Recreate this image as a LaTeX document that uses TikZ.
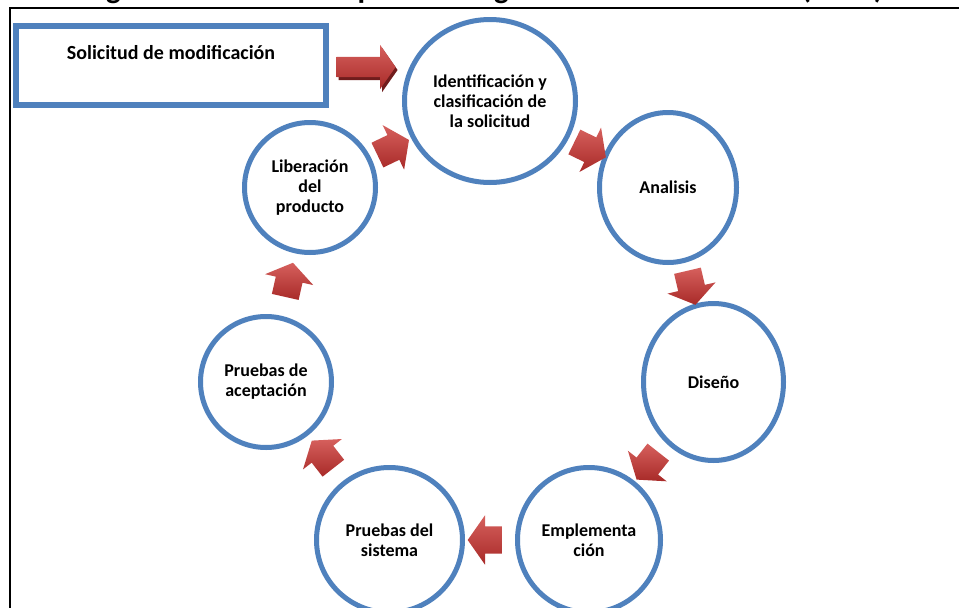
\documentclass[tikz,border=0pt]{standalone}
\usepackage{fontspec}
\setmainfont{Carlito}
\usetikzlibrary{shapes.geometric,shapes.arrows,calc,shadows}
\definecolor{cblue}{RGB}{79,129,189}
\definecolor{alight}{RGB}{214,96,93}
\definecolor{adark}{RGB}{168,42,40}
\definecolor{ashadow}{RGB}{112,28,28}
\begin{document}
\begin{tikzpicture}[x=1pt,y=1pt,
  stage/.style={ellipse, draw=cblue, line width=5pt, fill=white, inner sep=0pt,
    align=center, font=\bfseries\fontsize{18}{20}\selectfont},
  cyc/.style={single arrow, sloped, allow upside down=true, draw=none,
    inner xsep=0pt, inner ysep=13.5pt,
    minimum height=35pt, single arrow head extend=11pt,
    single arrow tip angle=110, top color=alight, bottom color=adark},
  bigarrow/.style={single arrow, draw=none, inner xsep=0pt, inner ysep=10pt,
    minimum height=59pt, single arrow head extend=12pt,
    single arrow tip angle=110, top color=alight, bottom color=adark,
    general shadow={fill=ashadow, shadow xshift=2pt, shadow yshift=-3pt}},
  reqbox/.style={rectangle, draw=cblue, line width=6pt, fill=white, inner sep=0pt,
    minimum width=310pt, minimum height=79pt, text depth=27pt,
    font=\bfseries\fontsize{20}{22}\selectfont}
]
\useasboundingbox (0,0) rectangle (959,-608);
\fill[white] (0,0) rectangle (959,-608);
\begin{scope}
  \clip (0,0) rectangle (959,-608);
  \node[anchor=base west, inner sep=0pt, font=\bfseries\fontsize{31}{34}\selectfont]
    (title) at (84,2) {Figura 1. Modelo del proceso según la norma IEEE 1219 (1998)};
  \draw[line width=2pt] (10,-8) rectangle (990,-650);
\end{scope}

% request box
\node[reqbox] (sol) at (171,-65.5) {Solicitud de modificación};

% stages
\node[stage, minimum width=171pt, minimum height=163pt] (ident) at (490,-101)
  {Identificación y\\clasificación de\\la solicitud};
\node[stage, minimum width=137pt, minimum height=150pt] (anal) at (668,-187.5) {Analisis};
\node[stage, minimum width=140pt, minimum height=157pt] (dis) at (713.5,-382) {Diseño};
\node[stage, minimum width=143pt, minimum height=145pt] (impl) at (589,-540) {Emplementa\\ción};
\node[stage, minimum width=146pt, minimum height=145pt] (sist) at (389.5,-540) {Pruebas del\\sistema};
\node[stage, minimum width=131pt, minimum height=131pt] (acep) at (266,-382) {Pruebas de\\aceptación};
\node[stage, minimum width=131pt, minimum height=130pt] (lib) at (310,-187.5) {Liberación\\del\\producto};

% arrows
\path ($(sol.east)+(0,-1.5)$) -- ($(sol.east -| ident.west)+(-6,-1.5)$) node[midway, bigarrow] (a0) {};
\path (ident) -- node[cyc, pos=0.5] (a1) {} (anal);
\path (anal) -- node[cyc, pos=0.5] (a2) {} (dis);
\path (dis) -- node[cyc, pos=0.5] (a3) {} (impl);
\path (impl) -- node[cyc, pos=0.5] (a4) {} (sist);
\path (sist) -- node[cyc, pos=0.5] (a5) {} (acep);
\path (acep) -- node[cyc, pos=0.5] (a6) {} (lib);
\path (lib) -- node[cyc, pos=0.44] (a7) {} (ident);
\end{tikzpicture}
\end{document}
